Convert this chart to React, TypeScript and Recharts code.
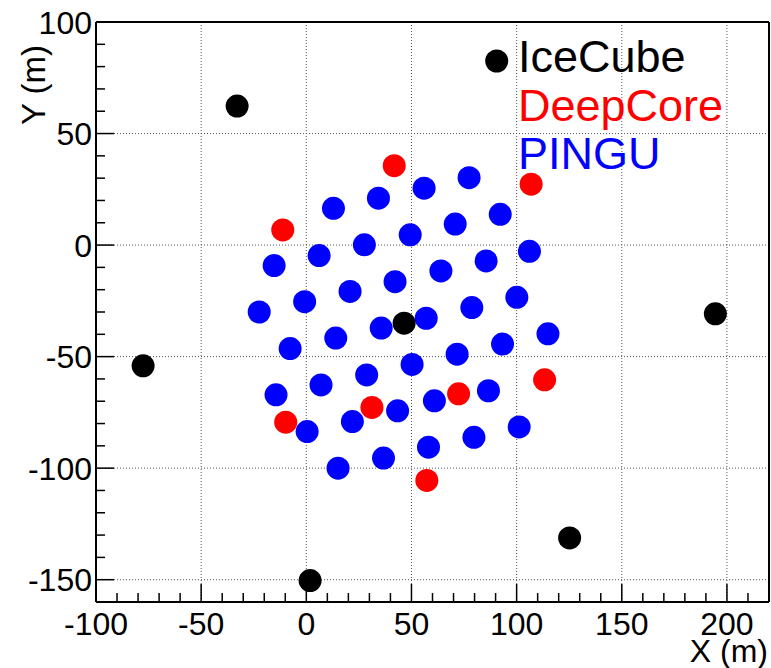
import React from "react";
import {
  ScatterChart,
  Scatter,
  XAxis,
  YAxis,
  CartesianGrid,
  Legend,
} from "recharts";

// string positions in metres
const iceCube = [
  { x: -32.9, y: 62.3 },
  { x: -77.6, y: -54.1 },
  { x: 46.5, y: -35.0 },
  { x: 194.5, y: -30.8 },
  { x: 125.2, y: -131.3 },
  { x: 1.8, y: -150.4 },
];

const deepCore = [
  { x: -11.2, y: 6.8 },
  { x: 41.8, y: 35.6 },
  { x: 106.9, y: 27.3 },
  { x: -9.8, y: -79.4 },
  { x: 31.2, y: -72.8 },
  { x: 72.4, y: -66.7 },
  { x: 113.3, y: -60.4 },
  { x: 57.3, y: -105.5 },
];

const pingu = [
  { x: 77.4, y: 30.2 },
  { x: 56.0, y: 25.5 },
  { x: 34.3, y: 21.0 },
  { x: 12.9, y: 16.5 },
  { x: 92.2, y: 13.8 },
  { x: 70.8, y: 9.4 },
  { x: 49.4, y: 4.6 },
  { x: 27.6, y: 0.1 },
  { x: 6.1, y: -4.7 },
  { x: -15.3, y: -9.2 },
  { x: 106.1, y: -2.8 },
  { x: 85.5, y: -7.1 },
  { x: 64.0, y: -11.6 },
  { x: 42.2, y: -16.4 },
  { x: 20.8, y: -20.8 },
  { x: -0.8, y: -25.4 },
  { x: -22.4, y: -30.0 },
  { x: 100.1, y: -23.4 },
  { x: 78.7, y: -28.0 },
  { x: 57.0, y: -32.8 },
  { x: 35.6, y: -37.2 },
  { x: 14.0, y: -41.7 },
  { x: -7.7, y: -46.4 },
  { x: 114.9, y: -39.8 },
  { x: 93.3, y: -44.4 },
  { x: 71.7, y: -48.9 },
  { x: 50.3, y: -53.5 },
  { x: 28.7, y: -58.2 },
  { x: 7.0, y: -62.7 },
  { x: -14.4, y: -67.1 },
  { x: 86.6, y: -65.3 },
  { x: 60.9, y: -69.8 },
  { x: 43.4, y: -74.3 },
  { x: 21.9, y: -79.1 },
  { x: 0.4, y: -83.6 },
  { x: 101.2, y: -81.5 },
  { x: 79.7, y: -86.2 },
  { x: 58.1, y: -90.6 },
  { x: 36.7, y: -95.5 },
  { x: 15.1, y: -100.0 },
];

const xDomain = [-100, 220];
const yDomain = [-160, 100];
const xMinorTicks = [-100, -90, -80, -70, -60, -50, -40, -30, -20, -10, 0, 10, 20, 30, 40, 50, 60, 70, 80, 90, 100, 110, 120, 130, 140, 150, 160, 170, 180, 190, 200, 210];
const yMinorTicks = [-150, -140, -130, -120, -110, -100, -90, -80, -70, -60, -50, -40, -30, -20, -10, 0, 10, 20, 30, 40, 50, 60, 70, 80, 90, 100];
const xGrid = [-50, 0, 50, 100, 150, 200];
const yGrid = [-150, -100, -50, 0, 50];

const legendItems = [
  { name: "IceCube", color: "#000000", marker: true },
  { name: "DeepCore", color: "#ff0000", marker: false },
  { name: "PINGU", color: "#0000ff", marker: false },
];

const FONT = "'Liberation Sans', Arial, Helvetica, sans-serif";
const MAJOR = 18;
const MINOR = 9;

const isMajor = (v: number) => v % 50 === 0;

function dot(color: string) {
  return (p: any) => <circle cx={p.cx} cy={p.cy} r={11.5} fill={color} />;
}

// ROOT-style ticks: drawn inside the frame, labels only on majors
function makeTick(side: "bottom" | "top" | "left" | "right") {
  return (props: any) => {
    const { x, y, payload } = props;
    const v = payload.value as number;
    const len = isMajor(v) ? MAJOR : MINOR;
    let line;
    if (side === "bottom") line = <line x1={x} x2={x} y1={y} y2={y - len} />;
    else if (side === "top") line = <line x1={x} x2={x} y1={y} y2={y + len} />;
    else if (side === "left") line = <line x1={x} x2={x + len} y1={y} y2={y} />;
    else line = <line x1={x} x2={x - len} y1={y} y2={y} />;
    return (
      <g stroke="#000" strokeWidth={1.5}>
        {line}
        {side === "bottom" && isMajor(v) && (
          <text x={x} y={y + 33} textAnchor="middle" fontSize={32} fill="#000" stroke="none" fontFamily={FONT}>
            {v}
          </text>
        )}
        {side === "left" && isMajor(v) && (
          <text x={x - 4} y={y} dy="0.36em" textAnchor="end" fontSize={32} fill="#000" stroke="none" fontFamily={FONT}>
            {v}
          </text>
        )}
      </g>
    );
  };
}

function LegendBox() {
  return (
    <svg width={280} height={160} style={{ overflow: "visible" }}>
      {legendItems.map((it, i) => (
        <g key={it.name}>
          {it.marker && <circle cx={26.7} cy={41} r={11.5} fill={it.color} />}
          <text x={48} y={52 + i * 48.5} fontSize={45} fill={it.color} fontFamily={FONT}>
            {it.name}
          </text>
        </g>
      ))}
    </svg>
  );
}

export default function App() {
  return (
    <div style={{ position: "absolute", left: 0, top: 0, background: "#fff" }}>
      <ScatterChart
        width={771}
        height={668}
        margin={{ top: 21, right: 1, bottom: 65, left: 95 }}
        style={{ fontFamily: FONT }}
      >
        <CartesianGrid
          xAxisId="x"
          yAxisId="y"
          verticalValues={xGrid}
          horizontalValues={yGrid}
          stroke="#555"
          strokeDasharray="1 2"
        />
        <XAxis
          xAxisId="x"
          dataKey="x"
          type="number"
          orientation="bottom"
          domain={xDomain}
          ticks={xMinorTicks}
          interval={0}
          height={1}
          tickSize={0}
          tickMargin={0}
          tickLine={false}
          axisLine={{ stroke: "#000", strokeWidth: 2 }}
          tick={makeTick("bottom")}
        />
        <XAxis
          xAxisId="top"
          type="number"
          orientation="top"
          domain={xDomain}
          ticks={xMinorTicks}
          interval={0}
          height={1}
          tickSize={0}
          tickMargin={0}
          tickLine={false}
          axisLine={{ stroke: "#000", strokeWidth: 2 }}
          tick={makeTick("top")}
        />
        <YAxis
          yAxisId="y"
          dataKey="y"
          type="number"
          orientation="left"
          domain={yDomain}
          ticks={yMinorTicks}
          interval={0}
          width={1}
          tickSize={0}
          tickMargin={0}
          tickLine={false}
          axisLine={{ stroke: "#000", strokeWidth: 2 }}
          tick={makeTick("left")}
        />
        <YAxis
          yAxisId="right"
          type="number"
          orientation="right"
          domain={yDomain}
          ticks={yMinorTicks}
          interval={0}
          width={1}
          tickSize={0}
          tickMargin={0}
          tickLine={false}
          axisLine={{ stroke: "#000", strokeWidth: 2 }}
          tick={makeTick("right")}
        />
        <Scatter
          name="PINGU"
          data={pingu}
          xAxisId="x"
          yAxisId="y"
          fill="#0000ff"
          shape={dot("#0000ff")}
          isAnimationActive={false}
        />
        <Scatter
          name="DeepCore"
          data={deepCore}
          xAxisId="x"
          yAxisId="y"
          fill="#ff0000"
          shape={dot("#ff0000")}
          isAnimationActive={false}
        />
        <Scatter
          name="IceCube"
          data={iceCube}
          xAxisId="x"
          yAxisId="y"
          fill="#000000"
          shape={dot("#000000")}
          isAnimationActive={false}
        />
        <Legend
          layout="vertical"
          align="center"
          verticalAlign="middle"
          wrapperStyle={{ top: 20, left: 470, width: 280, height: 160 }}
          content={() => <LegendBox />}
        />
        <text x={768} y={662} textAnchor="end" fontSize={32} fill="#000" fontFamily={FONT}>
          X (m)
        </text>
        <text
          x={45}
          y={45}
          textAnchor="end"
          fontSize={33}
          fill="#000"
          fontFamily={FONT}
          transform="rotate(-90, 45, 45)"
        >
          Y (m)
        </text>
      </ScatterChart>
    </div>
  );
}
